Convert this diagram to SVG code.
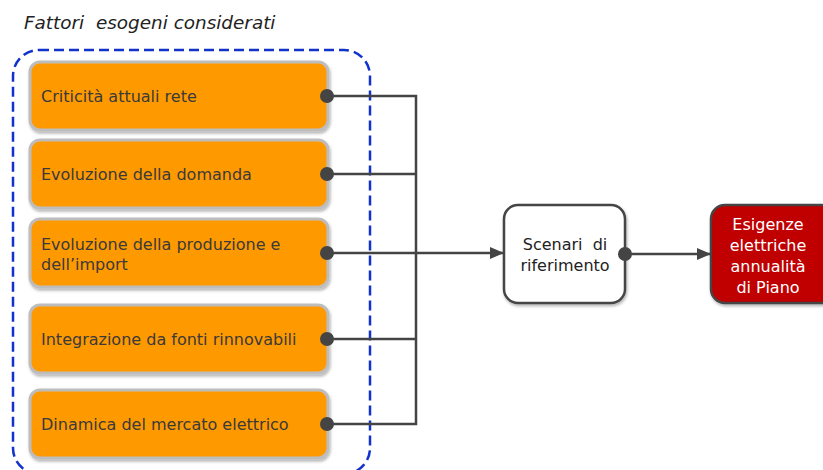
<svg xmlns="http://www.w3.org/2000/svg" width="823" height="470" viewBox="0 0 823 470">
<defs>
<style>
.t{font-family:"DejaVu Sans",Verdana,sans-serif;font-size:16px;fill:#3a3a3a}
.w{font-family:"DejaVu Sans",Verdana,sans-serif;font-size:16px;fill:#fff}
.f{fill:#ff9900;stroke:#bdbdbd;stroke-width:3}
.c{stroke:#444;stroke-width:2.5;fill:none}
.d{fill:#444}
</style>
<marker id="a" viewBox="0 0 14 12" refX="13" refY="6" markerWidth="14" markerHeight="12" markerUnits="userSpaceOnUse" orient="auto">
<path d="M0,0 L14,6 L0,12 z" fill="#444"/>
</marker>
<filter id="s" x="-10%" y="-10%" width="120%" height="130%">
<feDropShadow dx="1" dy="2" stdDeviation="1.5" flood-color="#000" flood-opacity="0.3"/>
</filter>
</defs>
<rect width="823" height="470" fill="#fff"/>
<text x="24" y="29" font-family="'DejaVu Sans',Verdana,sans-serif" font-size="18.4" font-style="italic" fill="#222" xml:space="preserve">Fattori  esogeni considerati</text>
<rect id="group" x="13" y="50" width="357" height="424" rx="26" fill="none" stroke="#1133cc" stroke-width="2.5" stroke-dasharray="10,5"/>
<g id="n1"><rect class="f" x="30" y="62" width="298" height="68" rx="10" filter="url(#s)"/><text class="t" x="41" y="102">Criticità attuali rete</text></g>
<g id="n2"><rect class="f" x="30" y="140" width="298" height="68" rx="10" filter="url(#s)"/><text class="t" x="41" y="180">Evoluzione della domanda</text></g>
<g id="n3"><rect class="f" x="30" y="219" width="298" height="68" rx="10" filter="url(#s)"/><text class="t" x="41" y="250">Evoluzione della produzione e</text><text class="t" x="41" y="270">dell’import</text></g>
<g id="n4"><rect class="f" x="30" y="305" width="298" height="68" rx="10" filter="url(#s)"/><text class="t" x="41" y="345">Integrazione da fonti rinnovabili</text></g>
<g id="n5"><rect class="f" x="30" y="390" width="298" height="68" rx="10" filter="url(#s)"/><text class="t" x="41" y="430">Dinamica del mercato elettrico</text></g>
<g id="n6"><rect x="504" y="205" width="121" height="98" rx="14" fill="#fff" stroke="#444" stroke-width="2.5" filter="url(#s)"/><text class="t" x="565" y="250" text-anchor="middle" style="fill:#222" xml:space="preserve">Scenari  di</text><text class="t" x="565" y="271" text-anchor="middle" style="fill:#222">riferimento</text></g>
<g id="n7"><rect x="711" y="205" width="125" height="98" rx="14" fill="#c00000" stroke="#444" stroke-width="2.5" filter="url(#s)"/><text class="w" x="768" y="230" text-anchor="middle">Esigenze</text><text class="w" x="768" y="251" text-anchor="middle">elettriche</text><text class="w" x="768" y="272" text-anchor="middle">annualità</text><text class="w" x="768" y="293" text-anchor="middle">di Piano</text></g>
<g id="connectors">
<path class="c" d="M327,96 H416 V424 H327"/>
<path class="c" d="M327,174 H416"/>
<path class="c" d="M327,339 H416"/>
<path class="c" d="M327,253 H503" marker-end="url(#a)"/>
<path class="c" d="M625,254 H710" marker-end="url(#a)"/>
<circle class="d" cx="327" cy="96" r="7"/>
<circle class="d" cx="327" cy="174" r="7"/>
<circle class="d" cx="327" cy="253" r="7"/>
<circle class="d" cx="327" cy="339" r="7"/>
<circle class="d" cx="327" cy="424" r="7"/>
<circle class="d" cx="625" cy="254" r="7"/>
</g>
</svg>
